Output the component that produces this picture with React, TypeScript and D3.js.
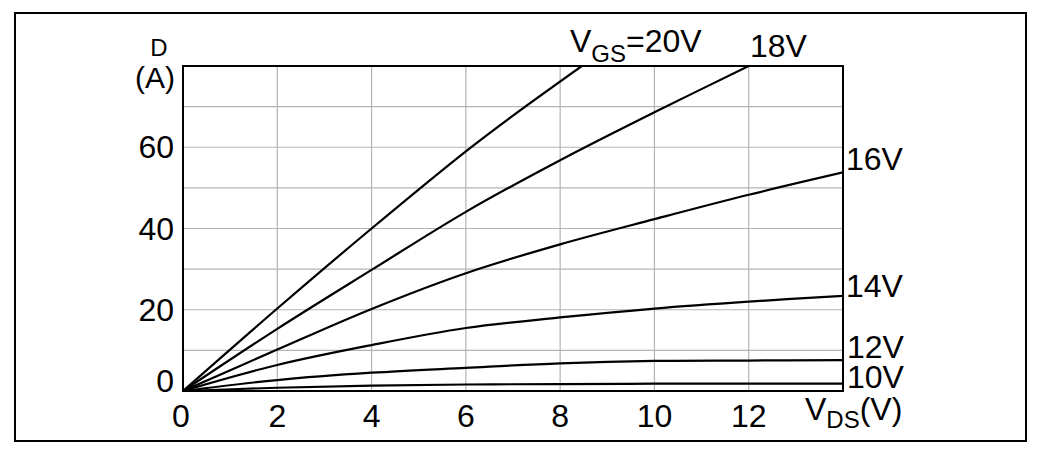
import * as d3 from "d3";

// V_DS sample points (V) and I_D readings (A) for each gate voltage
const vds = [0, 2, 4, 6, 8, 10, 12, 14];
const id10 = [0, 0.8, 1.3, 1.6, 1.7, 1.8, 1.8, 1.8];
const id12 = [0, 2.7, 4.5, 5.7, 6.8, 7.4, 7.5, 7.6];
const id14 = [0, 6.4, 11.3, 15.5, 18.1, 20.3, 22.0, 23.4];
const id16 = [0, 10.2, 20.2, 29.0, 36.1, 42.3, 48.3, 53.8];
const vds18 = [0, 2, 4, 6, 8, 10, 12];
const id18 = [0, 15.3, 29.8, 44.1, 56.8, 68.6, 80.0];
const vds20 = [0, 2, 4, 6, 7, 8.46];
const id20 = [0, 20.3, 40.0, 59.0, 67.8, 80.0];

const xTicks = [0, 2, 4, 6, 8, 10, 12];
const yTicks = [0, 20, 40, 60];
const xGrid = [2, 4, 6, 8, 10, 12];
const yGrid = [10, 20, 30, 40, 50, 60, 70];

const curves = [
  { x: vds, y: id10, label: "10V" },
  { x: vds, y: id12, label: "12V" },
  { x: vds, y: id14, label: "14V" },
  { x: vds, y: id16, label: "16V" },
  { x: vds18, y: id18, label: "18V" },
  { x: vds20, y: id20, label: "20V" },
];

const W = 1040;
const H = 453;
const plot = { left: 183, right: 843, top: 66, bottom: 391 };
const font = "'Liberation Sans', Arial, sans-serif";

export default function App() {
  const x = d3.scaleLinear().domain([0, 14]).range([plot.left, plot.right]);
  const y = d3.scaleLinear().domain([0, 80]).range([plot.bottom, plot.top]);

  const line = d3
    .line<[number, number]>()
    .x((d) => x(d[0]))
    .y((d) => y(d[1]))
    .curve(d3.curveCatmullRom.alpha(0.5));

  return (
    <svg
      width={W}
      height={H}
      style={{ position: "absolute", left: 0, top: 0, background: "#fff" }}
      fontFamily={font}
    >
      <rect x={15} y={13} width={1011} height={428} fill="none" stroke="#000" strokeWidth={2} />
      <defs>
        <clipPath id="plotclip">
          <rect x={plot.left} y={plot.top} width={plot.right - plot.left} height={plot.bottom - plot.top} />
        </clipPath>
      </defs>

      {xGrid.map((v) => (
        <line key={"gx" + v} x1={x(v)} x2={x(v)} y1={y(0)} y2={y(80)} stroke="#b4b4b4" strokeWidth={1.2} />
      ))}
      {yGrid.map((v) => (
        <line key={"gy" + v} x1={x(0)} x2={x(14)} y1={y(v)} y2={y(v)} stroke="#b4b4b4" strokeWidth={1.2} />
      ))}

      <g clipPath="url(#plotclip)">
        {curves.map((c) => (
          <path
            key={c.label}
            d={line(c.x.map((v, i) => [v, c.y[i]] as [number, number])) || ""}
            fill="none"
            stroke="#000"
            strokeWidth={2.2}
          />
        ))}
      </g>

      <rect
        x={plot.left}
        y={plot.top}
        width={plot.right - plot.left}
        height={plot.bottom - plot.top}
        fill="none"
        stroke="#000"
        strokeWidth={2}
      />

      {xTicks.map((v) => (
        <text key={"tx" + v} x={x(v) - (v === 0 ? 2 : 0)} y={427} fontSize={32} textAnchor="middle">
          {v}
        </text>
      ))}
      {yTicks.map((v) => (
        <text key={"ty" + v} x={174} y={v === 0 ? 392 : y(v) + 11} fontSize={32} textAnchor="end">
          {v}
        </text>
      ))}

      <text x={159} y={56} fontSize={24} textAnchor="middle">D</text>
      <text x={155} y={88} fontSize={30} textAnchor="middle">(A)</text>

      <text x={805} y={420} fontSize={32}>
        V<tspan fontSize={24} dy={8}>DS</tspan>
        <tspan dy={-8}>(V)</tspan>
      </text>

      <text x={570} y={52} fontSize={32}>
        V<tspan fontSize={24} dy={10}>GS</tspan>
        <tspan dy={-10}>=20V</tspan>
      </text>
      <text x={750} y={57} fontSize={32}>18V</text>
      <text x={846} y={170} fontSize={32}>16V</text>
      <text x={846} y={297} fontSize={32}>14V</text>
      <text x={847} y={358} fontSize={32}>12V</text>
      <text x={847} y={388} fontSize={32}>10V</text>
    </svg>
  );
}
